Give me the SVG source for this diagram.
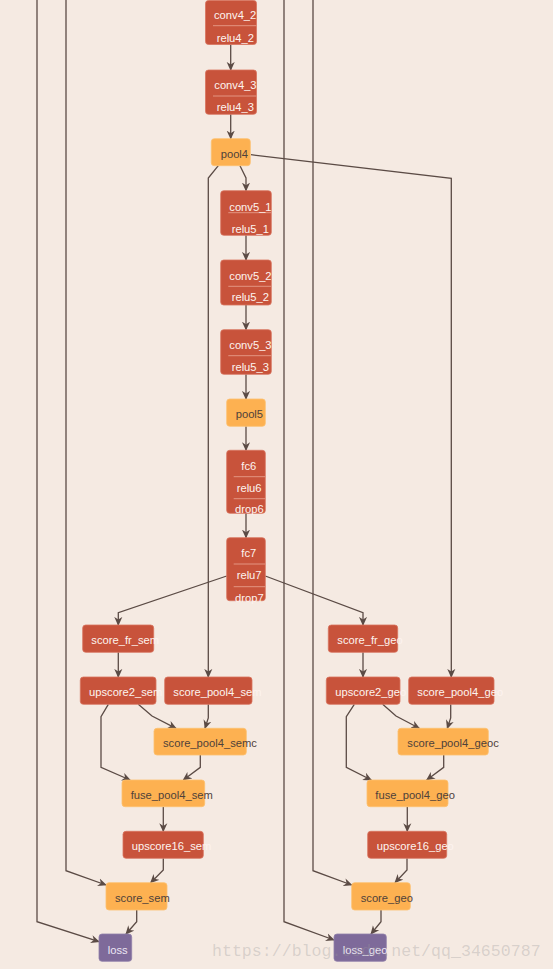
<svg xmlns="http://www.w3.org/2000/svg" width="553" height="969" viewBox="0 0 553 969">
<defs>
<marker id="arr" viewBox="0 0 10 10" refX="9" refY="5" markerWidth="9" markerHeight="9" markerUnits="userSpaceOnUse" orient="auto">
<path d="M0,0.5 L10,5 L0,9.5 L3,5 z" fill="#5b4b45"/>
</marker>
<style>
.e{fill:none;stroke:#5b4b45;stroke-width:1.3}
.a{marker-end:url(#arr)}
.r{fill:#c8533b;stroke:#d8735e;stroke-width:0.8}
.o{fill:#fdb151;stroke:#fdc06e;stroke-width:0.8}
.p{fill:#7e6a9a;stroke:#9080aa;stroke-width:0.8}
.d{stroke:#e39582;stroke-width:1}
text{font-family:"Liberation Sans",Arial,sans-serif;font-size:11.2px}
.tw{fill:#fdf3ef}
.td{fill:#4f413a}
.tl{fill:#ece6f4}
</style>
</defs>
<rect width="553" height="969" fill="#f5eae2"/>
<g id="edges">
<path class="e" d="M37,0 V921.7 L99,941.7" style="marker-end:url(#arr)"/>
<path class="e" d="M66,0 V870.7 L106,885" style="marker-end:url(#arr)"/>
<path class="e" d="M284,0 V921.7 L334,940" style="marker-end:url(#arr)"/>
<path class="e" d="M313,0 V870.7 L351.7,885" style="marker-end:url(#arr)"/>
<path class="e a" d="M230.7,44.5 V70"/>
<path class="e a" d="M230.7,114.3 V138.7"/>
<path class="e" d="M251,154.7 L451.3,178.3 V677" style="marker-end:url(#arr)"/>
<path class="e" d="M218.3,165.7 L208.3,178 V677" style="marker-end:url(#arr)"/>
<path class="e" d="M240,165.7 L246,178 V190.7" style="marker-end:url(#arr)"/>
<path class="e a" d="M246,235.3 V260"/>
<path class="e a" d="M246,305 V329.7"/>
<path class="e a" d="M246,374.3 V399"/>
<path class="e a" d="M246,426.3 V450.3"/>
<path class="e a" d="M246,513.3 V537.7"/>
<path class="e" d="M226.7,576 L118.3,612.7 V625" style="marker-end:url(#arr)"/>
<path class="e" d="M265.3,576 L363,612.7 V625" style="marker-end:url(#arr)"/>
<path class="e a" d="M118.3,652.3 V677"/>
<path class="e a" d="M363,652.3 V677"/>
<path class="e" d="M138.3,704.3 L152,716 L176,728.3" style="marker-end:url(#arr)"/>
<path class="e" d="M208.3,704.3 V718 L205,728.3" style="marker-end:url(#arr)"/>
<path class="e" d="M108.3,704.3 L101,716.7 V767.3 L130,780" style="marker-end:url(#arr)"/>
<path class="e" d="M200.3,755 V767.3 L183.3,780" style="marker-end:url(#arr)"/>
<path class="e a" d="M163.3,806.7 V831.3"/>
<path class="e" d="M163.3,858.3 V870 L150.7,882.7" style="marker-end:url(#arr)"/>
<path class="e" d="M136.7,910 V921.7 L126,934" style="marker-end:url(#arr)"/>
<path class="e" d="M382.7,704.3 L396,716 L419.3,728.3" style="marker-end:url(#arr)"/>
<path class="e" d="M450.7,704.3 V718 L447.3,728.3" style="marker-end:url(#arr)"/>
<path class="e" d="M354.3,704.3 L346.3,716.7 V767.3 L371.3,780" style="marker-end:url(#arr)"/>
<path class="e" d="M443.7,755 V767.3 L426.7,780" style="marker-end:url(#arr)"/>
<path class="e a" d="M407.3,806.7 V831.3"/>
<path class="e" d="M407,858.3 V870 L395,882.7" style="marker-end:url(#arr)"/>
<path class="e" d="M381,910 V921.7 L371,934" style="marker-end:url(#arr)"/>
</g>
<g id="conv4_2"><rect class="r" x="205.5" y="0.5" width="51" height="44" rx="3"/><line class="d" x1="213" y1="25.7" x2="256.5" y2="25.7"/><text class="tw" x="214" y="19">conv4_2</text><text class="tw" x="216.7" y="41.5">relu4_2</text></g>
<g id="conv4_3"><rect class="r" x="205.5" y="70" width="51" height="44.3" rx="3"/><line class="d" x1="213" y1="96" x2="256.5" y2="96"/><text class="tw" x="214.3" y="89">conv4_3</text><text class="tw" x="216.7" y="111">relu4_3</text></g>
<g id="pool4"><rect class="o" x="211.3" y="138.7" width="39" height="27" rx="3"/><text class="td" x="220.7" y="158.3">pool4</text></g>
<g id="conv5_1"><rect class="r" x="220.7" y="190.7" width="50.6" height="44.6" rx="3"/><line class="d" x1="228.3" y1="212.7" x2="271.3" y2="212.7"/><text class="tw" x="229.3" y="210.7">conv5_1</text><text class="tw" x="231.7" y="232.7">relu5_1</text></g>
<g id="conv5_2"><rect class="r" x="220.7" y="260" width="50.6" height="45" rx="3"/><line class="d" x1="228.3" y1="286.3" x2="271.3" y2="286.3"/><text class="tw" x="229.3" y="279.7">conv5_2</text><text class="tw" x="231.7" y="301">relu5_2</text></g>
<g id="conv5_3"><rect class="r" x="220.7" y="329.7" width="50.6" height="44.6" rx="3"/><line class="d" x1="228.3" y1="355.7" x2="271.3" y2="355.7"/><text class="tw" x="229.3" y="349.3">conv5_3</text><text class="tw" x="231.7" y="371.3">relu5_3</text></g>
<g id="pool5"><rect class="o" x="226.7" y="399" width="38.6" height="27.3" rx="3"/><text class="td" x="235.7" y="418.3">pool5</text></g>
<g id="fc6"><rect class="r" x="226.7" y="450.3" width="38.6" height="63" rx="3"/><line class="d" x1="233.7" y1="476.7" x2="265.3" y2="476.7"/><line class="d" x1="233.7" y1="498.7" x2="265.3" y2="498.7"/><text class="tw" x="241.3" y="470">fc6</text><text class="tw" x="236.7" y="492.3">relu6</text><text class="tw" x="235" y="513.3">drop6</text></g>
<g id="fc7"><rect class="r" x="226.7" y="537.7" width="38.6" height="63" rx="3"/><line class="d" x1="233.7" y1="564" x2="265.3" y2="564"/><line class="d" x1="233.7" y1="586.7" x2="265.3" y2="586.7"/><text class="tw" x="241.3" y="557">fc7</text><text class="tw" x="236.7" y="578.7">relu7</text><text class="tw" x="235" y="602.3">drop7</text></g>
<g id="score_fr_sem"><rect class="r" x="82.7" y="625" width="71" height="27.3" rx="3"/><text class="tw" x="91.3" y="644.3">score_fr_sem</text></g>
<g id="upscore2_sem"><rect class="r" x="80.3" y="677" width="75.7" height="27.3" rx="3"/><text class="tw" x="89" y="696">upscore2_sem</text></g>
<g id="score_pool4_sem"><rect class="r" x="164.7" y="677" width="87.3" height="27.3" rx="3"/><text class="tw" x="173.3" y="696">score_pool4_sem</text></g>
<g id="score_pool4_semc"><rect class="o" x="154" y="728.3" width="92.3" height="26.7" rx="3"/><text class="td" x="163" y="747.3">score_pool4_semc</text></g>
<g id="fuse_pool4_sem"><rect class="o" x="122" y="780" width="82.7" height="26.7" rx="3"/><text class="td" x="130.7" y="799">fuse_pool4_sem</text></g>
<g id="upscore16_sem"><rect class="r" x="123" y="831.3" width="80.3" height="27" rx="3"/><text class="tw" x="131.7" y="850">upscore16_sem</text></g>
<g id="score_sem"><rect class="o" x="106" y="882.7" width="61" height="27.3" rx="3"/><text class="td" x="115" y="902.3">score_sem</text></g>
<g id="loss"><rect class="p" x="99" y="934" width="32.7" height="27.3" rx="3"/><text class="tl" x="107.7" y="954">loss</text></g>
<g id="score_fr_geo"><rect class="r" x="328.3" y="625" width="69.4" height="27.3" rx="3"/><text class="tw" x="337.3" y="644.3">score_fr_geo</text></g>
<g id="upscore2_geo"><rect class="r" x="326.3" y="677" width="73.7" height="27.3" rx="3"/><text class="tw" x="335.3" y="696">upscore2_geo</text></g>
<g id="score_pool4_geo"><rect class="r" x="408.7" y="677" width="85.3" height="27.3" rx="3"/><text class="tw" x="417.3" y="696">score_pool4_geo</text></g>
<g id="score_pool4_geoc"><rect class="o" x="398" y="728.3" width="90.3" height="26.7" rx="3"/><text class="td" x="407.3" y="747.3">score_pool4_geoc</text></g>
<g id="fuse_pool4_geo"><rect class="o" x="367" y="780" width="81" height="26.7" rx="3"/><text class="td" x="375.3" y="799">fuse_pool4_geo</text></g>
<g id="upscore16_geo"><rect class="r" x="367.7" y="831.3" width="79" height="27" rx="3"/><text class="tw" x="376.7" y="850">upscore16_geo</text></g>
<g id="score_geo"><rect class="o" x="351.7" y="882.7" width="58.6" height="27.3" rx="3"/><text class="td" x="360.7" y="902.3">score_geo</text></g>
<g id="loss_geo"><rect class="p" x="334" y="934" width="52.3" height="27.3" rx="3"/><text class="tl" x="342.7" y="954">loss_geo</text></g>
<text x="212" y="955.5" style="font-family:'Liberation Mono','DejaVu Sans Mono',monospace;font-size:16.6px" fill="#999" fill-opacity="0.32">https://blog.csdn.net/qq_34650787</text>
</svg>
